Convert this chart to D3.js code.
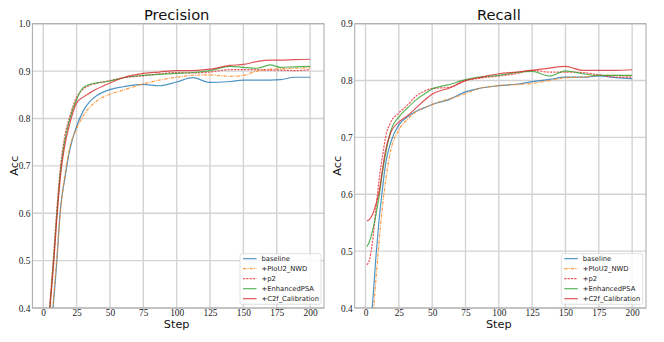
<!DOCTYPE html>
<html>
<head>
<meta charset="utf-8">
<script src="https://cdn.jsdelivr.net/npm/d3@7/dist/d3.min.js"></script>
<style>
  html, body { margin: 0; padding: 0; background: #fff; }
  svg { display: block; }
  .tick text { font-family: "Liberation Serif", "DejaVu Serif", serif; font-size: 9.4px; fill: #222; }
</style>
</head>
<body>
<svg id="chart" width="664" height="342"></svg>
<script>
// ---------------- DATA ----------------
const seriesNames = ["baseline", "+PIoU2_NWD", "+p2", "+EnhancedPSA", "+C2f_Calibration"];
const xTicks = [0, 25, 50, 75, 100, 125, 150, 175, 200];
const precisionTicks = [0.4, 0.5, 0.6, 0.7, 0.8, 0.9, 1.0];
const recallTicks = [0.4, 0.5, 0.6, 0.7, 0.8, 0.9];

const precisionSteps = [1, 5, 8, 10, 13, 16, 20, 25, 30, 35, 40, 50, 60, 75, 87, 100, 112, 125, 140, 150, 160, 170, 178, 188, 200];
const precBaseline = [0.20, 0.34, 0.42, 0.49, 0.612, 0.67, 0.735, 0.783, 0.816, 0.836, 0.848, 0.861, 0.867, 0.872, 0.869, 0.877, 0.886, 0.876, 0.878, 0.881, 0.881, 0.881, 0.882, 0.887, 0.887];
const precPIoU = [0.20, 0.33, 0.43, 0.50, 0.605, 0.675, 0.74, 0.778, 0.806, 0.824, 0.837, 0.851, 0.860, 0.873, 0.881, 0.887, 0.891, 0.892, 0.889, 0.891, 0.900, 0.904, 0.905, 0.906, 0.907];
const precP2 = [0.27, 0.41, 0.52, 0.60, 0.70, 0.76, 0.805, 0.845, 0.862, 0.870, 0.874, 0.880, 0.886, 0.890, 0.894, 0.897, 0.896, 0.898, 0.903, 0.903, 0.903, 0.902, 0.902, 0.901, 0.903];
const precPSA = [0.25, 0.40, 0.51, 0.59, 0.69, 0.75, 0.80, 0.84, 0.865, 0.872, 0.875, 0.879, 0.886, 0.891, 0.893, 0.895, 0.897, 0.901, 0.910, 0.908, 0.906, 0.913, 0.908, 0.909, 0.910];
const precC2f = [0.27, 0.40, 0.50, 0.58, 0.68, 0.74, 0.79, 0.833, 0.845, 0.854, 0.862, 0.875, 0.886, 0.895, 0.898, 0.901, 0.901, 0.904, 0.912, 0.914, 0.920, 0.923, 0.923, 0.924, 0.925];

const recallSteps = [1, 3, 5, 8, 10, 13, 15, 19, 25, 32, 38, 44, 50, 63, 75, 85, 100, 113, 125, 138, 150, 163, 175, 188, 200];
const recBaseline = [0.30, 0.36, 0.40, 0.495, 0.55, 0.615, 0.652, 0.692, 0.722, 0.737, 0.746, 0.752, 0.758, 0.767, 0.780, 0.786, 0.791, 0.7935, 0.798, 0.802, 0.806, 0.806, 0.808, 0.805, 0.8035];
const recPIoU = [0.27, 0.33, 0.37, 0.455, 0.512, 0.584, 0.622, 0.678, 0.713, 0.733, 0.745, 0.752, 0.758, 0.768, 0.777, 0.786, 0.791, 0.793, 0.795, 0.800, 0.805, 0.806, 0.809, 0.809, 0.808];
const recP2 = [0.476, 0.485, 0.512, 0.578, 0.622, 0.671, 0.70, 0.727, 0.743, 0.758, 0.773, 0.781, 0.786, 0.788, 0.800, 0.804, 0.808, 0.812, 0.818, 0.815, 0.815, 0.814, 0.810, 0.806, 0.806];
const recPSA = [0.508, 0.517, 0.533, 0.566, 0.594, 0.642, 0.67, 0.712, 0.736, 0.753, 0.766, 0.776, 0.785, 0.793, 0.8015, 0.806, 0.809, 0.814, 0.816, 0.808, 0.817, 0.812, 0.809, 0.809, 0.809];
const recC2f = [0.553, 0.556, 0.563, 0.584, 0.602, 0.648, 0.677, 0.709, 0.727, 0.739, 0.752, 0.765, 0.776, 0.787, 0.800, 0.805, 0.812, 0.815, 0.818, 0.822, 0.825, 0.818, 0.818, 0.818, 0.819];

// ---------------- STYLE ----------------
const styles = [
  { color: "#1f77b4", dash: null },
  { color: "#ff7f0e", dash: "3.2,1.2,1,1.2" },
  { color: "#f0282d", dash: "2.2,1.1" },
  { color: "#2ca02c", dash: null },
  { color: "#d62728", dash: null }
];

const svg = d3.select("#chart");

function drawPanel(cfg) {
  const { left, right, top, bottom, yDomain, yTicks, title, steps, series, id, legend } = cfg;
  const x = d3.scaleLinear().domain([-8.1, 210.4]).range([left, right]);
  const y = d3.scaleLinear().domain(yDomain).range([bottom, top]);
  const g = svg.append("g");

  // grid
  g.append("g").selectAll("line").data(xTicks).join("line")
    .attr("x1", d => x(d)).attr("x2", d => x(d))
    .attr("y1", top).attr("y2", bottom)
    .attr("stroke", "#d3d3d3").attr("stroke-width", 1.4);
  g.append("g").selectAll("line").data(yTicks).join("line")
    .attr("x1", left).attr("x2", right)
    .attr("y1", d => y(d)).attr("y2", d => y(d))
    .attr("stroke", "#d3d3d3").attr("stroke-width", 1.4);

  // clip
  svg.append("defs").append("clipPath").attr("id", id)
    .append("rect").attr("x", left).attr("y", top)
    .attr("width", right - left).attr("height", bottom - top);

  const line = d3.line().x(d => x(d[0])).y(d => y(d[1])).curve(d3.curveMonotoneX);
  const lg = g.append("g").attr("clip-path", `url(#${id})`);
  series.forEach((vals, i) => {
    const pts = steps.map((s, k) => [s, vals[k]]);
    lg.append("path").datum(pts)
      .attr("d", line)
      .attr("fill", "none")
      .attr("stroke", styles[i].color)
      .attr("stroke-opacity", 0.78)
      .attr("stroke-width", 1.2)
      .attr("stroke-dasharray", styles[i].dash);
  });

  // frame
  g.append("rect").attr("x", left).attr("y", top)
    .attr("width", right - left).attr("height", bottom - top)
    .attr("fill", "none").attr("stroke", "#a8a8a8").attr("stroke-width", 1);

  // axes
  const xAxis = d3.axisBottom(x).tickValues(xTicks).tickFormat(d3.format("d")).tickSize(0).tickPadding(1.5);
  const gx = g.append("g").attr("transform", `translate(0,${bottom})`).call(xAxis);
  const yAxis = d3.axisLeft(y).tickValues(yTicks).tickFormat(d3.format(".1f")).tickSize(0).tickPadding(2);
  const gy = g.append("g").attr("transform", `translate(${left},0)`).call(yAxis);
  [gx, gy].forEach(a => {
    a.attr("font-family", null).attr("font-size", null);
    a.select(".domain").remove();
  });

  // title and labels
  const cx = (x(0) + x(200)) / 2;
  g.append("text").attr("x", cx).attr("y", 20).attr("text-anchor", "middle")
    .style("font-family", "DejaVu Sans, sans-serif").style("font-size", "14.7px").attr("fill", "#111").text(title);
  g.append("text").attr("x", cx).attr("y", 328).attr("text-anchor", "middle")
    .style("font-family", "DejaVu Sans, sans-serif").style("font-size", "11.3px").attr("fill", "#111").text("Step");
  g.append("text").attr("transform", `translate(${left - 14},${(top + bottom) / 2}) rotate(-90)`)
    .attr("text-anchor", "middle")
    .style("font-family", "DejaVu Sans, sans-serif").style("font-size", "11.3px").attr("fill", "#111").text("Acc");

  // legend
  const L = g.append("g");
  L.append("rect").attr("x", legend.x).attr("y", 253.7).attr("width", legend.w).attr("height", 50.6)
    .attr("rx", 2).attr("fill", "#fff").attr("fill-opacity", 0.85).attr("stroke", "#d8d8d8").attr("stroke-width", 0.8);
  seriesNames.forEach((name, i) => {
    const yy = 258.7 + i * 10;
    L.append("line").attr("x1", legend.x + 3).attr("x2", legend.x + 16.5)
      .attr("y1", yy).attr("y2", yy)
      .attr("stroke", styles[i].color).attr("stroke-opacity", 0.78).attr("stroke-width", 1.2)
      .attr("stroke-dasharray", styles[i].dash);
    L.append("text").attr("x", legend.x + 21.5).attr("y", yy + 2.5)
      .style("font-family", "DejaVu Sans, sans-serif").style("font-size", "6.8px").attr("fill", "#222").text(name);
  });
}

drawPanel({
  id: "clipP", left: 32.4, right: 324, top: 23.7, bottom: 308,
  yDomain: [0.4, 1.0], yTicks: precisionTicks, title: "Precision",
  steps: precisionSteps, series: [precBaseline, precPIoU, precP2, precPSA, precC2f],
  legend: { x: 240, w: 81 }
});
drawPanel({
  id: "clipR", left: 354.7, right: 646, top: 23.7, bottom: 308,
  yDomain: [0.4, 0.9], yTicks: recallTicks, title: "Recall",
  steps: recallSteps, series: [recBaseline, recPIoU, recP2, recPSA, recC2f],
  legend: { x: 561.3, w: 81.4 }
});
</script>
</body>
</html>
